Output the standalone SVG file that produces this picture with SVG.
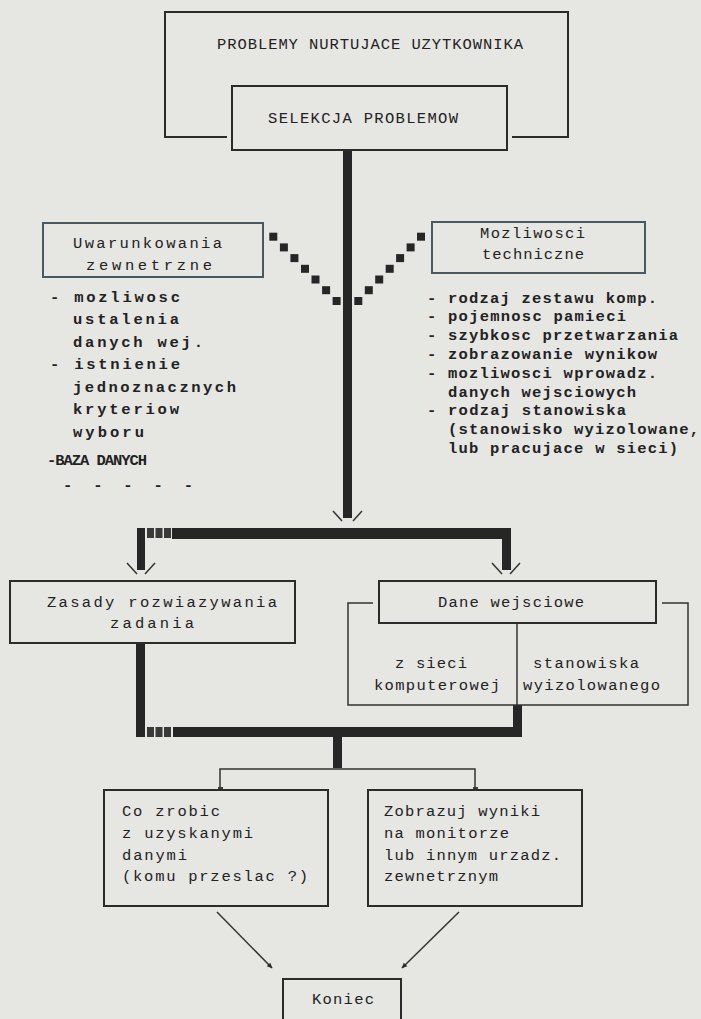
<svg xmlns="http://www.w3.org/2000/svg" width="701" height="1019" viewBox="0 0 701 1019">
<defs>
<style>
.bg{fill:#e6e6e3}
.box{fill:none;stroke:#2b2b2b;stroke-width:2}
.box2{fill:none;stroke:#4a5960;stroke-width:2}
.thin{fill:none;stroke:#333;stroke-width:1.5}
.thick{fill:#262626}
.dot{fill:#3a3a3a}
.t{font-family:"Liberation Mono","DejaVu Sans Mono",monospace;font-size:15.5px;fill:#222}
.b{font-weight:bold}
</style>
<marker id="ah" markerWidth="6" markerHeight="6" refX="5" refY="3" orient="auto" markerUnits="userSpaceOnUse">
<path d="M0,0.5 L5.5,3 L0,5.5 Z" fill="#2b2b2b"/>
</marker>
</defs>
<rect class="bg" x="0" y="0" width="701" height="1019"/>

<g id="connectors">
<rect class="thick" x="343" y="150" width="9" height="368"/>
<g class="thick">
<rect x="269.3" y="232.7" width="8" height="8"/>
<rect x="279.9" y="243.4" width="8" height="8"/>
<rect x="290.4" y="254.1" width="8" height="8"/>
<rect x="301" y="264.8" width="8" height="8"/>
<rect x="311.5" y="275.5" width="8" height="8"/>
<rect x="322.1" y="286.2" width="8" height="8"/>
<rect x="332.6" y="297" width="8" height="8"/>
<rect x="417" y="232.7" width="8" height="8"/>
<rect x="406.6" y="243.4" width="8" height="8"/>
<rect x="396.1" y="254.1" width="8" height="8"/>
<rect x="385.7" y="264.8" width="8" height="8"/>
<rect x="375.2" y="275.5" width="8" height="8"/>
<rect x="364.8" y="286.2" width="8" height="8"/>
<rect x="354.3" y="297" width="8" height="8"/>
</g>
<path class="thin" d="M333,511 L342,521 M362,511 L353,521"/>
<rect class="thick" x="137" y="528" width="8" height="42"/>
<rect class="dot" x="147" y="528" width="7" height="10"/>
<rect class="dot" x="155.5" y="528" width="7" height="10"/>
<rect class="dot" x="164" y="528" width="7" height="10"/>
<rect class="thick" x="172" y="528" width="339" height="11"/>
<rect class="thick" x="502" y="528" width="9" height="42"/>
<path class="thin" d="M127,563 L137,574 M155,563 L145,574 M492,563 L502,574 M520,563 L510,574"/>
<rect class="thick" x="136" y="643" width="9" height="94"/>
<rect class="dot" x="147" y="727" width="7" height="10"/>
<rect class="dot" x="155.5" y="727" width="7" height="10"/>
<rect class="dot" x="164" y="727" width="7" height="10"/>
<rect class="thick" x="173" y="727" width="349" height="10"/>
<rect class="thick" x="513" y="705" width="9" height="32"/>
<rect class="thick" x="333" y="737" width="9" height="31"/>
<path class="thin" d="M220,790 V769 H475 V790"/>
<rect class="dot" x="218" y="787" width="5" height="3"/>
<rect class="dot" x="473" y="787" width="5" height="3"/>
<line class="thin" x1="217" y1="912" x2="272" y2="968" marker-end="url(#ah)"/>
<line class="thin" x1="459" y1="912" x2="402" y2="968" marker-end="url(#ah)"/>
</g>

<g id="problemy">
<path class="box" d="M227,137 H165 V12 H568 V137 H512"/>
<text class="t" x="217" y="48.5" textLength="306">PROBLEMY NURTUJACE UZYTKOWNIKA</text>
</g>

<g id="selekcja">
<rect class="box" x="232" y="86" width="275" height="64"/>
<text class="t" x="268" y="122.5" textLength="190">SELEKCJA PROBLEMOW</text>
</g>

<g id="uwarunkowania">
<rect class="box2" x="43" y="223" width="220" height="54"/>
<text class="t" x="73" y="247.5" textLength="149">Uwarunkowania</text>
<text class="t" x="86" y="269.5" textLength="126">zewnetrzne</text>
</g>

<g id="uwarunkowania-lista">
<text class="t b" x="50" y="301.5" textLength="130">- mozliwosc</text>
<text class="t b" x="73" y="324" textLength="106">ustalenia</text>
<text class="t b" x="73" y="346.5" textLength="130">danych wej.</text>
<text class="t b" x="50" y="368.5" textLength="130">- istnienie</text>
<text class="t b" x="73" y="391.5" textLength="163">jednoznacznych</text>
<text class="t b" x="73" y="413.5" textLength="106">kryteriow</text>
<text class="t b" x="73" y="436.5" textLength="71">wyboru</text>
<text class="t b" x="47" y="464.5" textLength="100">-BAZA DANYCH</text>
<text class="t b" x="63" y="490" textLength="130">- - - - -</text>
</g>

<g id="mozliwosci">
<rect class="box2" x="432" y="222" width="213" height="51"/>
<text class="t" x="480" y="237.5" textLength="105">Mozliwosci</text>
<text class="t" x="482" y="258.5" textLength="102">techniczne</text>
</g>

<g id="mozliwosci-lista">
<text class="t b" x="427" y="302.5" textLength="230">- rodzaj zestawu komp.</text>
<text class="t b" x="427" y="321.3" textLength="199">- pojemnosc pamieci</text>
<text class="t b" x="427" y="340.1" textLength="251">- szybkosc przetwarzania</text>
<text class="t b" x="427" y="358.9" textLength="230">- zobrazowanie wynikow</text>
<text class="t b" x="427" y="377.7" textLength="230">- mozliwosci wprowadz.</text>
<text class="t b" x="448" y="396.5" textLength="188">danych wejsciowych</text>
<text class="t b" x="427" y="415.3" textLength="199">- rodzaj stanowiska</text>
<text class="t b" x="448" y="434.1" textLength="251">(stanowisko wyizolowane,</text>
<text class="t b" x="448" y="452.9" textLength="230">lub pracujace w sieci)</text>
</g>

<g id="zasady">
<rect class="box" x="10" y="581" width="285" height="62"/>
<text class="t" x="47" y="606.5" textLength="230">Zasady rozwiazywania</text>
<text class="t" x="110" y="627.5" textLength="84">zadania</text>
</g>

<g id="dane">
<path class="thin" d="M373,603 H348 V705 H688 V603 H662"/>
<line class="thin" x1="517" y1="623" x2="517" y2="705"/>
<rect class="box" x="379" y="581" width="277" height="42"/>
<text class="t" x="438" y="606.5" textLength="146">Dane wejsciowe</text>
<text class="t" x="395" y="667.5" textLength="72">z sieci</text>
<text class="t" x="374" y="689.5" textLength="126">komputerowej</text>
<text class="t" x="533" y="667.5" textLength="106">stanowiska</text>
<text class="t" x="523" y="689.5" textLength="137">wyizolowanego</text>
</g>

<g id="co-zrobic">
<rect class="box" x="104" y="790" width="224" height="116"/>
<text class="t" x="122" y="815.5" textLength="98">Co zrobic</text>
<text class="t" x="122" y="837.5" textLength="131">z uzyskanymi</text>
<text class="t" x="122" y="859.5" textLength="65">danymi</text>
<text class="t" x="122" y="880.5" textLength="186">(komu przeslac ?)</text>
</g>

<g id="zobrazuj">
<rect class="box" x="368" y="790" width="214" height="116"/>
<text class="t" x="384" y="815.5" textLength="156">Zobrazuj wyniki</text>
<text class="t" x="384" y="837.5" textLength="125">na monitorze</text>
<text class="t" x="384" y="859.5" textLength="177">lub innym urzadz.</text>
<text class="t" x="384" y="880.5" textLength="114">zewnetrznym</text>
</g>

<g id="koniec">
<rect class="box" x="283" y="979" width="118" height="50"/>
<text class="t" x="312" y="1004" textLength="62">Koniec</text>
</g>
</svg>
